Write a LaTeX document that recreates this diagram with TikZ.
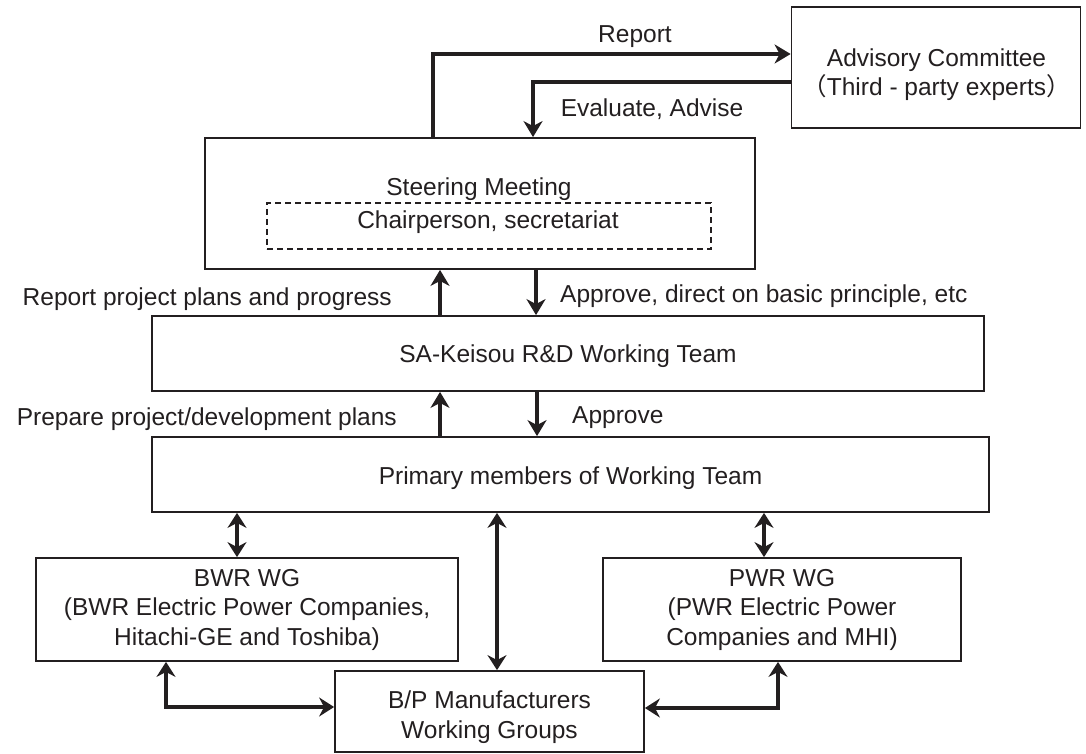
\documentclass[tikz,border=0pt]{standalone}
\usepackage{fontspec}
\setmainfont{Liberation Sans}
\newfontfamily\cjk{Noto Sans CJK JP}
\usetikzlibrary{arrows.meta}
\definecolor{ink}{HTML}{231F20}
\begin{document}
\begin{tikzpicture}[x=1pt,y=-1pt,
  font=\fontsize{24.5}{29.5}\selectfont, text=ink,
  box/.style={draw=ink, line width=1.8pt, inner sep=0pt, align=center},
  dbox/.style={draw=ink, line width=1.3pt, dash pattern=on 6pt off 4pt, inner sep=0pt},
  lbl/.style={inner sep=0pt, anchor=base},
  txt/.style={inner sep=0pt, align=center},
  arr/.style={draw=ink, line width=4pt, -{Stealth[length=16pt,width=19pt,inset=5pt]}},
  darr/.style={draw=ink, line width=3.8pt, {Stealth[length=15pt,width=19pt,inset=5pt]}-{Stealth[length=15pt,width=19pt,inset=5pt]}},
  ]
\useasboundingbox (0,0) rectangle (1086,754);
% boxes
\node[box, minimum width=289pt, minimum height=121pt] (adv) at (936,67.5) {};
\node[txt] (advtxt) at (936.5,74.5)
  {Advisory Committee\\{\cjk （}Third - party experts{\cjk ）}};
\node[box, minimum width=550pt, minimum height=131pt] (steer) at (480,203.5) {};
\node[lbl] (steertxt) at (479,196) {Steering Meeting};
\node[dbox, minimum width=444pt, minimum height=46pt] (chair) at (489,226) {};
\node[lbl] (chairtxt) at (488,228.5) {Chairperson, secretariat};
\node[box, minimum width=832pt, minimum height=75pt, text height=18pt, text depth=0pt] (sa) at (568,353.5) {SA-Keisou R\&D Working Team};
\node[box, minimum width=837pt, minimum height=75pt, text height=20pt, text depth=0pt] (prim) at (570.5,474.5) {Primary members of Working Team};
\node[box, minimum width=422pt, minimum height=103pt] (bwr) at (247,609.5)
  {BWR WG\\(BWR Electric Power Companies,\\Hitachi-GE and Toshiba)};
\node[box, minimum width=358pt, minimum height=103pt] (pwr) at (782,609.5)
  {PWR WG\\(PWR Electric Power\\Companies and MHI)};
\node[box, minimum width=309pt, minimum height=81pt] (bp) at (489.5,711.5) {};
\node[txt, font=\fontsize{24.5}{30}\selectfont] (bptxt) at (489.5,717)
  {B/P Manufacturers\\Working Groups};
% labels
\node[lbl] (lrep) at (635,43) {Report};
\node[lbl] (lev) at (652,117) {Evaluate, Advise};
\node[lbl, anchor=base east] (lrpp) at (392,305) {Report project plans and progress};
\node[lbl, anchor=base west] (lapd) at (560,302) {Approve, direct on basic principle, etc};
\node[lbl, anchor=base east] (lprep) at (397,425) {Prepare project/development plans};
\node[lbl, anchor=base west] (lapp) at (572,423) {Approve};
% helper coordinates
\coordinate (rep) at (433,54);
\coordinate (ev) at (533,82);
\coordinate (up) at (440,0);
\coordinate (dn1) at (536,0);
\coordinate (dn2) at (537,0);
\coordinate (dl) at (237,0);
\coordinate (dm) at (497,0);
\coordinate (dr) at (764,0);
\coordinate (cl) at (166,707);
\coordinate (cr) at (778,708);
% connectors
\draw[arr] (steer.north -| rep) |- (adv.west |- rep);
\draw[arr] (adv.west |- ev) -| (steer.north -| ev);
\draw[arr] (sa.north -| up) -- (steer.south -| up);
\draw[arr] (steer.south -| dn1) -- (sa.north -| dn1);
\draw[arr] (prim.north -| up) -- (sa.south -| up);
\draw[arr] (sa.south -| dn2) -- (prim.north -| dn2);
\draw[darr] (prim.south -| dl) -- (bwr.north -| dl);
\draw[darr] (prim.south -| dm) -- (bp.north -| dm);
\draw[darr] (prim.south -| dr) -- (pwr.north -| dr);
\draw[darr, line width=4.5pt] (bwr.south -| cl) |- (bp.west |- cl);
\draw[darr, line width=4.5pt] (pwr.south -| cr) |- (bp.east |- cr);
\end{tikzpicture}
\end{document}
